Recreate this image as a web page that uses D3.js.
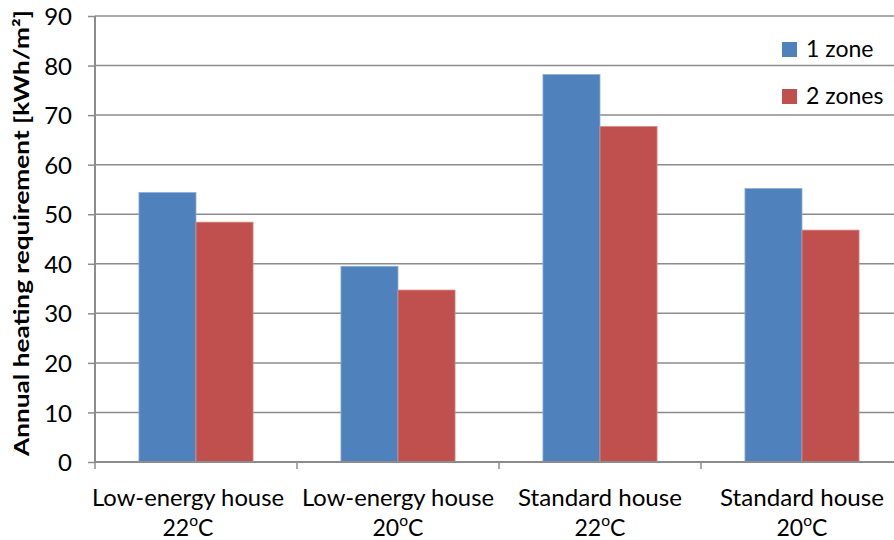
<!DOCTYPE html>
<html><head><meta charset="utf-8">
<script src="https://cdn.jsdelivr.net/npm/d3@7"></script>
<style>body{margin:0;background:#fff}svg{display:block}text{font-family:Lato,"Open Sans",sans-serif;fill:#000}</style>
</head><body><svg id="c" width="894" height="540"></svg>
<script>
const categories = ["Low-energy house|22", "Low-energy house|20", "Standard house|22", "Standard house|20"];
const seriesNames = ["1 zone", "2 zones"];
const oneZone = [54.4, 39.5, 78.2, 55.2];
const twoZones = [48.4, 34.7, 67.7, 46.8];
const yTicks = [0, 10, 20, 30, 40, 50, 60, 70, 80, 90];
const yTitle = "Annual heating requirement [kWh/m²]";
const colors = ["#4F81BD", "#C0504D"];
const edge = ["#8fb0d8", "#d88a88"];

(function () {
const svg = d3.select("#c");
const pL = 95, pR = 903, pT = 16, pB = 462;
const x = d3.scaleBand().domain(categories).range([pL, pR]).paddingInner(0).paddingOuter(0);
const xs = d3.scaleBand().domain(seriesNames).range([0, x.bandwidth()]).paddingInner(0).paddingOuter(0.77);
const y = d3.scaleLinear().domain([0, 90]).range([pB, pT]);
const values = [oneZone, twoZones];

svg.append("g").selectAll("line").data(yTicks.filter(d => d > 0)).join("line")
  .attr("x1", pL).attr("x2", 894).attr("y1", d => y(d)).attr("y2", d => y(d))
  .attr("stroke", "#8c8c8c").attr("stroke-width", 1.5);

seriesNames.forEach((s, si) => {
  svg.append("g").selectAll("rect").data(categories).join("rect")
    .attr("x", c => x(c) + xs(s))
    .attr("width", xs.bandwidth())
    .attr("y", (c, i) => y(values[si][i]))
    .attr("height", (c, i) => y(0) - y(values[si][i]))
    .attr("fill", colors[si]).attr("stroke", edge[si]).attr("stroke-width", 0.8);
});

const ya = svg.append("g").attr("transform", `translate(${pL},0)`)
  .call(d3.axisLeft(y).tickValues(yTicks).tickSize(7).tickPadding(16).tickFormat(d3.format("d")));
ya.select(".domain").attr("stroke", "#8c8c8c").attr("stroke-width", 2).attr("d", `M0,${pT}V${pB}`);
ya.selectAll(".tick line").attr("stroke", "#8c8c8c").attr("stroke-width", 1.5);
ya.selectAll(".tick text").attr("font-size", 24).attr("font-family", "Lato").attr("fill", "#000").attr("dy", "0.36em");

const xa = svg.append("g").attr("transform", `translate(0,${pB})`)
  .call(d3.axisBottom(x).tickValues([]).tickSizeOuter(0));
xa.select(".domain").attr("stroke", "#8c8c8c").attr("stroke-width", 2).attr("d", `M${pL},0H894`);
xa.selectAll("line.tk").data(categories.map(c => x(c)).concat([pR]))
  .join("line").attr("class", "tk")
  .attr("x1", d => d).attr("x2", d => d).attr("y1", 0).attr("y2", 7)
  .attr("stroke", "#8c8c8c").attr("stroke-width", 1.5);

const targetW = {"Low-energy house": 192, "Standard house": 164};
const fs = 23;
categories.forEach((c, i) => {
  const [name, temp] = c.split("|");
  const cx = x(c) + x.bandwidth() / 2 + (i === 0 ? -8 : 0);
  svg.append("text").attr("x", cx).attr("y", 506).attr("text-anchor", "middle").attr("font-size", fs)
    .attr("textLength", targetW[name]).attr("lengthAdjust", "spacingAndGlyphs").text(name);
  const t2 = svg.append("text").attr("x", cx).attr("y", 536).attr("text-anchor", "middle").attr("font-size", fs);
  t2.append("tspan").text(temp);
  t2.append("tspan").attr("dy", -10).attr("font-size", fs * 0.68).text("o");
  t2.append("tspan").attr("dy", 10).text("C");
});

svg.append("text").attr("transform", "translate(29,233) rotate(-90)")
  .attr("text-anchor", "middle").attr("font-weight", "bold").attr("font-size", 21)
  .attr("textLength", 446).attr("lengthAdjust", "spacingAndGlyphs").text(yTitle);

seriesNames.forEach((s, i) => {
  const ly = 42 + i * 47;
  svg.append("rect").attr("x", 782).attr("y", ly).attr("width", 15).attr("height", 15).attr("fill", colors[i]);
  svg.append("text").attr("x", 806).attr("y", ly + 15).attr("font-size", 23).text(s);
});
})();
</script></body></html>
